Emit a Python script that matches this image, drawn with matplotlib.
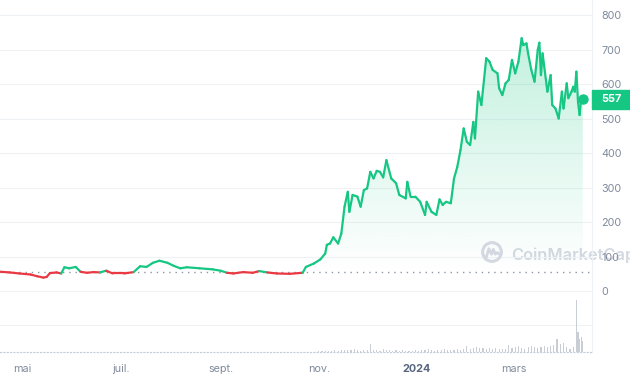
import numpy as np
import pandas as pd
import matplotlib
matplotlib.use("Agg")
import matplotlib.pyplot as plt
import matplotlib.transforms as mtransforms
from matplotlib.collections import LineCollection
from matplotlib.patches import Rectangle, Circle
from matplotlib.path import Path

plt.rcParams['font.family'] = ['Inter', 'DejaVu Sans']

# ===== DATA =====
start = pd.Timestamp("2023-04-17")

price_days = [0, 6, 12, 19, 23, 27, 29, 31, 35, 38, 40, 43, 47, 50, 54, 58, 62, 66, 70, 77,
              83, 87, 91, 95, 99, 104, 108, 112, 116, 124, 132, 137, 141, 145, 151, 157, 161,
              166, 172, 180, 188, 190, 195, 199, 202, 203, 205, 207, 210, 212, 214, 216, 217,
              219, 222, 224, 226, 228, 230, 232, 234, 236, 238, 240, 243, 246, 248, 252, 253,
              255, 258, 261, 264, 265, 268, 271, 273, 275, 277, 280, 282, 284, 286, 288, 290,
              292, 294, 295, 297, 299, 302, 304, 306, 309, 310, 312, 314, 316, 318, 320, 322,
              324, 325, 327, 328, 330, 332, 334, 335, 336, 337, 340, 342, 343, 345, 347, 349,
              350, 352, 353, 355, 356, 357, 358, 359, 360, 361, 362]
price = [56, 54, 51, 48, 43, 39, 41, 52, 54, 51, 69, 66, 70, 56, 53, 55, 54, 59, 51, 51,
         55, 72, 70, 82, 88, 82, 73, 66, 69, 66, 63, 59, 53, 51, 55, 53, 58,
         54, 51, 50, 53, 70, 80, 92, 109, 134, 138, 156, 138, 167, 245, 288, 230,
         279, 274, 245, 293, 298, 346, 327, 349, 346, 330, 380, 327, 313, 279, 269, 317,
         274, 274, 259, 221, 259, 230, 221, 266, 250, 259, 255, 327, 360, 409, 472, 433,
         424, 491, 443, 579, 540, 676, 666, 642, 632, 589, 569, 603, 613, 671, 632, 666,
         734, 714, 719, 690, 642, 608, 700, 721, 627, 690, 579, 627, 540, 530, 501, 579,
         530, 603, 560, 579, 593, 579, 637, 550, 511, 564, 557]

vol_days = [194, 196, 198, 200, 202, 204, 206, 208, 210, 212, 214, 216, 218, 220, 222, 224,
            226, 228, 230, 232, 234, 236, 238, 240, 242, 244, 246, 248, 250, 252, 254, 256,
            258, 260, 262, 264, 266, 268, 270, 272, 274, 276, 278, 280, 282, 284, 286, 288,
            290, 292, 294, 296, 298, 300, 302, 304, 306, 308, 310, 312, 314, 316, 318, 320,
            322, 324, 326, 328, 330, 332, 334, 336, 338, 340, 342, 344, 346, 348, 350, 352,
            354, 356, 358, 359, 360, 361, 362]
volume = [0.5, 0.5, 1, 1, 1.5, 1.5, 1.5, 2, 1.5, 2, 2, 2.5, 2, 3, 2, 1.5,
          2, 2, 8, 2, 2, 1.5, 3, 2, 2, 1.5, 2, 1.5, 2, 1.5, 1.5, 1.5,
          2, 1.5, 2, 2, 3, 2, 1.5, 2, 2.5, 3, 2, 2, 2.5, 3, 2, 3,
          6, 3, 4, 5, 4, 4, 3.5, 4, 3, 4, 3.5, 3, 3.5, 7, 4, 5,
          6, 4, 3.5, 5, 6, 5, 4, 5, 6, 5, 6, 7, 13, 8, 9, 5,
          3, 5, 52, 20, 13, 15, 11]

y_ticks = [0, 100, 200, 300, 400, 500, 600, 700, 800]
x_ticks = ["2023-05-01", "2023-07-01", "2023-09-01", "2023-11-01", "2024-01-01", "2024-03-01"]
x_labels = ["mai", "juil.", "sept.", "nov.", "2024", "mars"]

GREEN = "#16c784"
RED = "#ea3943"

dates = start + pd.to_timedelta(price_days, unit="D")
vdates = start + pd.to_timedelta(vol_days, unit="D")
base = price[0]

fig = plt.figure(figsize=(6.3, 3.8), dpi=100)
ax = fig.add_axes([0, 28 / 380, 592 / 630, 352 / 380])

# ===== VOLUME (twin first, twinx resets tick side) =====
axv = ax.twinx()
axv.bar(vdates, volume, width=0.7, color="#c8cdd6")
axv.set_ylim(0, max(volume) * 352 / 52)
axv.axis("off")

x = matplotlib.dates.date2num(dates)
y = np.array(price, dtype=float)

# ===== GRADIENT FILL =====
poly = ax.fill_between(x, y, base, where=y >= base, interpolate=True, color="none", lw=0)
grad = np.linspace(0, 1, 256).reshape(-1, 1)
rgba = np.zeros((256, 1, 4))
rgba[..., :3] = matplotlib.colors.to_rgb(GREEN)
rgba[..., 3] = grad * 0.26
img = ax.imshow(rgba, extent=[x[0], x[-1], base, 740], origin="lower", aspect="auto", zorder=1)
img.set_clip_path(Path.make_compound_path(*poly.get_paths()), transform=ax.transData)

# ===== PRICE LINE =====
pts = np.column_stack([x, y])
segs = np.stack([pts[:-1], pts[1:]], axis=1)
mid = (y[:-1] + y[1:]) / 2
cols = [GREEN if m >= base else RED for m in mid]
lc = LineCollection(segs, colors=cols, linewidths=1.6, capstyle="round", joinstyle="round", zorder=4)
ax.add_collection(lc)
ax.axhline(base, color="#8c96a8", lw=1, ls=(0, (1, 3.5)), zorder=3)
ax.plot(x[-1], y[-1], "o", ms=6.5, color=GREEN, zorder=5)

# ===== AXES =====
ax.set_xlim(start, start + pd.Timedelta(days=367.7))
axv.set_xlim(ax.get_xlim())
ax.set_ylim(-177, 845)
ax.set_yticks(y_ticks)
ax.set_yticklabels([str(v) for v in y_ticks])
ax.yaxis.tick_right()
ax.tick_params(axis="y", length=0, pad=6.5, labelsize=7.8, labelcolor="#808a9d")
ax.axhline(-100, color="#eff2f5", lw=0.8, zorder=0)
ax.grid(axis="y", color="#eff2f5", lw=0.8)
ax.set_axisbelow(True)
ax.set_xticks(pd.to_datetime(x_ticks))
ax.set_xticklabels(x_labels)
ax.tick_params(axis="x", length=0, pad=9, labelsize=7.8, labelcolor="#808a9d")
for t in ax.get_xticklabels():
    if t.get_text() == "2024":
        t.set_fontweight("bold")
        t.set_color("#58667e")
for s in ["top", "left"]:
    ax.spines[s].set_visible(False)
ax.spines["right"].set_color("#eff2f5")
ax.spines["bottom"].set_color("#c3cbd8")
ax.spines["bottom"].set_linestyle((0, (1, 2)))

# ===== PRICE TAG =====
blend = mtransforms.blended_transform_factory(ax.transAxes, ax.transData)
tag = fig.dpi_scale_trans + mtransforms.ScaledTranslation(1.0, price[-1], blend)
ax.add_patch(Rectangle((0, -0.095), 0.40, 0.19, transform=tag, color=GREEN, clip_on=False, zorder=6))
ax.text(1.0, price[-1], str(price[-1]), transform=mtransforms.offset_copy(blend, fig, x=9, y=0, units="dots"),
        color="white", fontsize=7.8, fontweight="bold", va="center", ha="left", zorder=7, clip_on=False)

# ===== WATERMARK =====
ax.text(511 / 592, 0.275, "CoinMarketCap", transform=ax.transAxes, color="#d3d8e1",
        fontsize=11.8, fontweight="semibold", va="center", ha="left", zorder=0.2, clip_on=False)
lax = fig.add_axes([481 / 630, (380 - 263) / 380, 22 / 630, 22 / 380])
lax.add_patch(Circle((0, 0), 0.85, fill=False, ec="#d3d8e1", lw=2.2))
lax.plot([-0.5, -0.28, -0.05, 0.12, 0.3, 0.5, 0.62], [-0.4, 0.3, -0.2, 0.25, -0.2, -0.05, -0.15],
         color="#d3d8e1", lw=2, solid_joinstyle="round")
lax.set_xlim(-1, 1)
lax.set_ylim(-1, 1)
lax.axis("off")

fig.savefig("out.png", dpi=100)
